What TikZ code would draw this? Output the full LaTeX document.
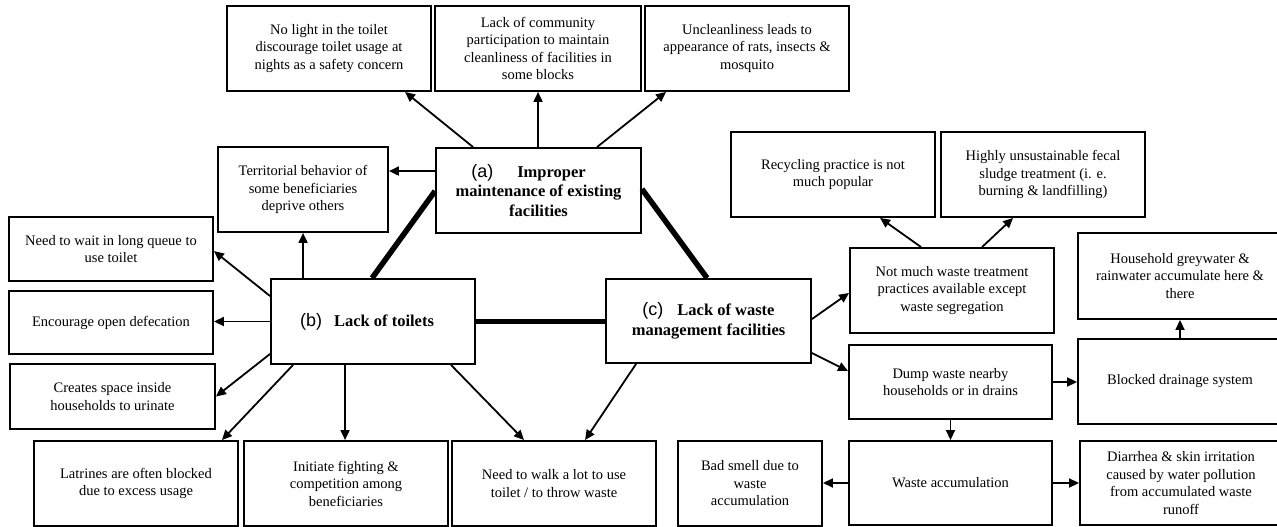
\documentclass[tikz,border=0pt]{standalone}
\usepackage{fontspec}
\setmainfont{Liberation Serif}
\newfontfamily\labfont{Liberation Sans}
\usetikzlibrary{arrows.meta,calc}
\tikzset{
  bx/.style={draw=black, line width=1.9pt, inner sep=0pt, align=center,
    font=\fontsize{14.5}{17.5}\selectfont},
  mainbx/.style={bx, font=\fontsize{16.5}{19.5}\selectfont\bfseries},
  arr/.style={draw=black, line width=1.8pt, -{Triangle[length=10pt,width=9pt]}},
  heavy/.style={draw=black, line width=5.5pt},
}
\newcommand\partlab[1]{{\labfont\mdseries\fontsize{18}{19}\selectfont #1}}
% \mkbox[style]{name}{x1}{y1}{x2}{y2}{text}
\newcommand\mkbox[7][bx]{%
  \node[#1, minimum width={#5-#3}, minimum height={#6-#4}]
    (#2) at ({(#3+#5)/2},{(#4+#6)/2}) {#7};}
\begin{document}
\begin{tikzpicture}[x=1pt,y=-1pt]
\useasboundingbox (0,0) rectangle (1277,527);
\fill[white] (0,0) rectangle (1277,527);
\begin{scope}
\clip (0,0) rectangle (1277,527);
% top row
\mkbox{nolight}{227}{6}{431}{91}{No light in the toilet\\discourage toilet usage at\\nights as a safety concern}
\mkbox{lackcomm}{435}{6}{641}{91}{Lack of community\\participation to maintain\\cleanliness of facilities in\\some blocks}
\mkbox{unclean}{645}{6}{849}{91}{Uncleanliness leads to\\appearance of rats, insects \&\\mosquito}
% (a) row
\mkbox{terr}{218}{147}{388}{232}{Territorial behavior of\\some beneficiaries\\deprive others}
\mkbox[mainbx]{A}{436}{148}{641}{233}{\partlab{(a)}\hspace{24pt}Improper\hspace*{20pt}\\maintenance of existing\\facilities}
\mkbox{recyc}{731}{132}{935}{217}{Recycling practice is not\\much popular}
\mkbox{highly}{941}{132}{1145}{217}{Highly unsustainable fecal\\sludge treatment (i. e.\\burning \& landfilling)}
% left column
\mkbox{wait}{9}{217}{213}{281}{Need to wait in long queue to\\use toilet}
\mkbox{enc}{9}{291}{213}{354}{Encourage open defecation}
\mkbox{creates}{10}{364}{215}{429}{Creates space inside\\households to urinate}
% middle row
\mkbox[mainbx]{B}{271}{279}{475}{364}{\partlab{(b)}\hspace{12pt}Lack of toilets\hspace*{12pt}}
\mkbox[mainbx]{C}{606}{279}{811}{363}{\partlab{(c)}\hspace{14pt}Lack of waste\\management facilities}
\mkbox{notmuch}{850}{248}{1054}{333}{Not much waste treatment\\practices available except\\waste segregation}
\mkbox{house}{1078}{233}{1282}{319}{Household greywater \&\\rainwater accumulate here \&\\there}
\mkbox{dump}{849}{345}{1052}{419}{Dump waste nearby\\households or in drains}
\mkbox{blocked}{1078}{339}{1282}{424}{Blocked drainage system}
% bottom row
\mkbox{latr}{34}{441}{238}{526}{Latrines are often blocked\\due to excess usage}
\mkbox{init}{244}{441}{448}{526}{Initiate fighting \&\\competition among\\beneficiaries}
\mkbox{walk}{452}{441}{656}{526}{Need to walk a lot to use\\toilet / to throw waste}
\mkbox{bad}{678}{441}{822}{526}{Bad smell due to\\waste\\accumulation}
\mkbox{wacc}{849}{441}{1052}{525}{Waste accumulation}
\mkbox{diar}{1080}{441}{1282}{525}{Diarrhea \& skin irritation\\caused by water pollution\\from accumulated waste\\runoff}
% heavy links
\draw[heavy] ($(B.north west)+(102,0)$) -- ($(A.north west)+(0,44)$);
\draw[heavy] ($(A.north east)+(0,42)$) -- ($(C.north west)+(102,0)$);
\draw[heavy] (B.east) -- (B.east -| C.west);
% arrows from (a)
\draw[arr] ($(A.north west)+(38,0)$) -- ($(nolight.south west)+(179,0)$);
\draw[arr] ($(A.north west)+(103,0)$) -- ($(lackcomm.south west)+(104,0)$);
\draw[arr] ($(A.north west)+(162,0)$) -- ($(unclean.south west)+(22,0)$);
\draw[arr] ($(A.north west)+(0,24)$) -- ($(terr.north east)+(0,25)$);
% arrows from (b)
\draw[arr] ($(B.north west)+(33,0)$) -- ($(terr.south west)+(86,0)$);
\draw[arr] ($(B.north west)+(0,18)$) -- ($(wait.north east)+(0,35)$);
\draw[arr] (B.west) -- (B.west -| enc.east);
\draw[arr] ($(B.south west)+(0,-11)$) -- (creates.east);
\draw[arr] ($(B.south west)+(23,0)$) -- ($(latr.north east)+(-17,0)$);
\draw[arr] ($(B.south west)+(75,0)$) -- ($(init.north west)+(102,0)$);
\draw[arr] ($(B.south west)+(181,0)$) -- ($(walk.north west)+(73,0)$);
% arrows from (c)
\draw[arr] ($(C.south west)+(31,0)$) -- ($(walk.north west)+(134,0)$);
\draw[arr] ($(C.north east)+(0,41)$) -- ($(notmuch.south west)+(0,-41)$);
\draw[arr] ($(C.north east)+(0,75)$) -- ($(dump.north west)+(0,27)$);
% right cluster
\draw[arr] ($(notmuch.north west)+(72,0)$) -- ($(recyc.south west)+(150,0)$);
\draw[arr] ($(notmuch.north west)+(133,0)$) -- ($(highly.south west)+(73,0)$);
\draw[arr] (dump.east) -- (dump.east -| blocked.west);
\draw[arr] (dump.south) -- (dump.south |- wacc.north);
\draw[arr] (wacc.west) -- (wacc.west -| bad.east);
\draw[arr] (wacc.east) -- (wacc.east -| diar.west);
\draw[arr] (blocked.north) -- (house.south);
\end{scope}
\end{tikzpicture}
\end{document}
